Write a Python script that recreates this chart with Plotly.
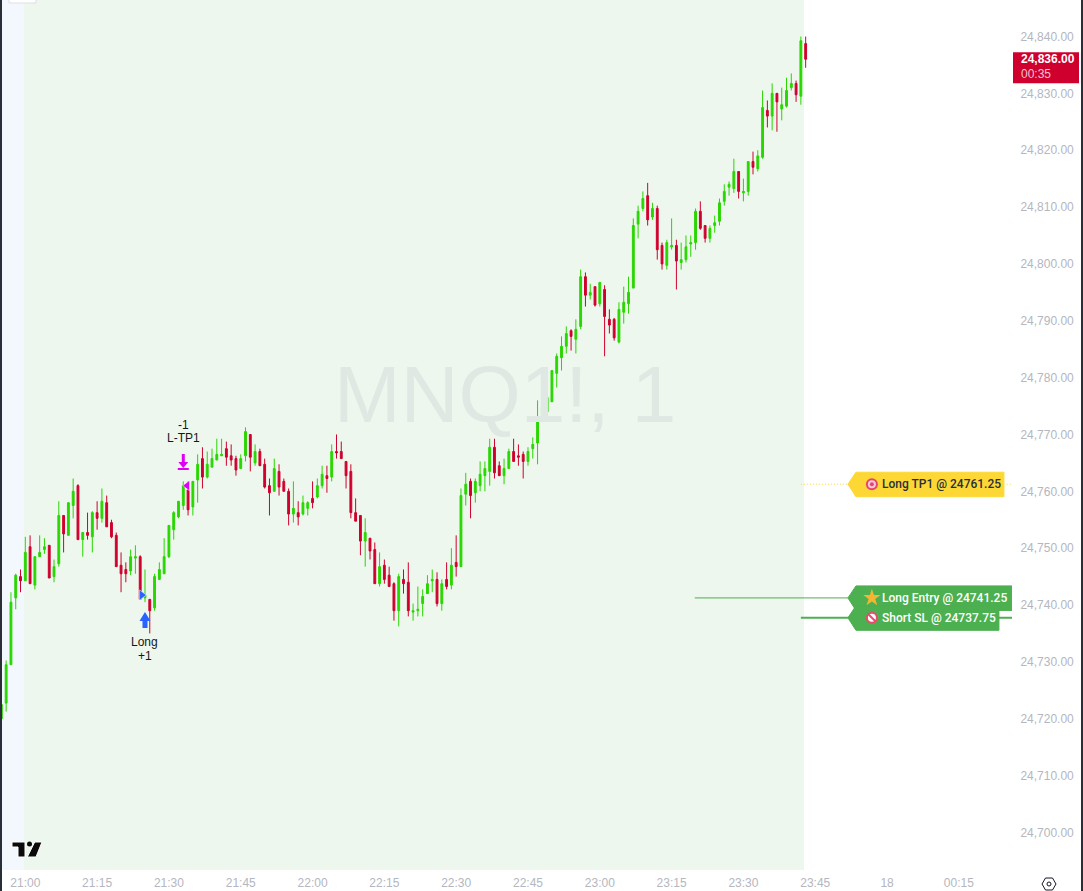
import pandas as pd
import plotly.graph_objects as go

# one minute MNQ bars, first bar 20:55
opens = [
    24720.0, 24722.75, 24729.5, 24741.25, 24745.0, 24744.25, 24750.25, 24743.5, 24748.5, 24749.75,
    24750.5, 24745.0, 24747.25, 24755.75, 24752.25, 24757.5, 24761.0, 24751.5, 24752.75, 24752.0,
    24756.25, 24755.25, 24758.0, 24754.5, 24752.25, 24747.0, 24746.25, 24746.0, 24748.25, 24748.5,
    24741.25, 24741.0, 24739.5, 24744.5, 24745.5, 24748.5, 24753.25, 24755.5, 24757.5, 24760.25,
    24757.25, 24762.0, 24765.75, 24762.5, 24764.25, 24765.5, 24766.25, 24767.5, 24766.25, 24765.75,
    24764.0, 24766.25, 24770.0, 24765.0, 24767.0, 24764.75, 24761.0, 24760.0, 24763.5, 24761.75,
    24760.0, 24756.0, 24756.25, 24756.0, 24757.0, 24758.75, 24759.0, 24761.0, 24762.75, 24762.5,
    24767.0, 24767.0, 24765.25, 24763.5, 24756.25, 24755.75, 24751.25, 24751.75, 24749.75, 24743.75,
    24747.0, 24745.25, 24743.75, 24739.0, 24744.5, 24744.0, 24738.75, 24739.0, 24740.25, 24742.0,
    24744.25, 24744.5, 24740.25, 24744.5, 24743.5, 24747.5, 24746.75, 24759.5, 24761.75, 24759.75,
    24761.0, 24762.75, 24763.5, 24767.75, 24764.5, 24762.75, 24764.0, 24767.0, 24766.25, 24766.5,
    24765.25, 24767.5, 24768.5, 24773.5, 24774.0, 24775.75, 24780.75, 24783.5, 24785.5, 24788.25,
    24786.75, 24789.0, 24797.75, 24794.5, 24796.0, 24793.0, 24795.5, 24790.25, 24790.25, 24786.25,
    24791.5, 24793.0, 24795.75, 24807.0, 24809.75, 24812.0, 24808.25, 24809.75, 24803.25, 24799.75,
    24803.0, 24803.25, 24800.25, 24800.75, 24803.5, 24803.75, 24809.25, 24806.75, 24804.5, 24806.75,
    24807.5, 24811.0, 24813.5, 24813.25, 24816.25, 24812.5, 24812.75, 24818.0, 24816.75, 24818.75,
    24827.0, 24826.0, 24830.0, 24827.25, 24827.75, 24831.0, 24831.75, 24829.5, 24838.75,
]
highs = [
    24722.5, 24730.25, 24742.25, 24745.5, 24746.25, 24752.0, 24752.25, 24748.5, 24752.25, 24751.75,
    24750.5, 24748.0, 24758.25, 24755.75, 24758.0, 24762.25, 24761.25, 24752.75, 24756.25, 24756.5,
    24758.25, 24760.5, 24759.25, 24755.0, 24752.75, 24749.25, 24747.5, 24749.75, 24750.5, 24748.75,
    24746.25, 24741.0, 24745.5, 24747.5, 24751.75, 24754.0, 24756.5, 24758.25, 24761.75, 24761.75,
    24761.75, 24766.5, 24767.75, 24767.0, 24767.5, 24769.25, 24769.25, 24768.75, 24768.25, 24766.25,
    24766.5, 24771.25, 24770.0, 24768.25, 24767.5, 24765.75, 24762.25, 24765.75, 24764.75, 24762.25,
    24760.5, 24761.75, 24758.25, 24759.25, 24758.25, 24761.75, 24762.25, 24764.5, 24764.5, 24768.25,
    24770.0, 24768.75, 24765.25, 24764.75, 24758.75, 24755.75, 24755.25, 24751.75, 24751.0, 24749.25,
    24748.0, 24746.75, 24744.0, 24745.5, 24746.25, 24747.5, 24740.25, 24743.25, 24742.75, 24745.25,
    24746.25, 24745.75, 24744.5, 24747.5, 24750.0, 24752.25, 24760.5, 24763.25, 24762.25, 24762.25,
    24765.25, 24765.25, 24769.25, 24769.25, 24765.25, 24765.75, 24767.5, 24769.25, 24768.25, 24767.0,
    24767.75, 24769.5, 24776.0, 24776.0, 24777.25, 24781.25, 24784.25, 24787.25, 24789.0, 24788.5,
    24790.25, 24799.0, 24798.5, 24796.5, 24796.0, 24796.75, 24796.25, 24792.0, 24790.5, 24793.25,
    24796.0, 24797.75, 24808.0, 24810.25, 24812.75, 24814.25, 24810.75, 24810.25, 24803.75, 24804.25,
    24808.0, 24804.25, 24803.75, 24805.0, 24805.0, 24809.75, 24811.0, 24806.75, 24806.75, 24808.5,
    24811.5, 24814.0, 24814.5, 24818.5, 24816.25, 24815.0, 24818.0, 24819.75, 24820.0, 24830.5,
    24828.75, 24831.75, 24830.0, 24831.0, 24832.75, 24833.5, 24832.25, 24840.0, 24840.0,
]
lows = [
    24720.0, 24721.25, 24729.5, 24739.25, 24742.25, 24744.25, 24743.75, 24742.75, 24748.5, 24749.0,
    24744.75, 24744.0, 24746.75, 24749.25, 24752.25, 24755.25, 24751.5, 24748.5, 24751.5, 24749.25,
    24753.25, 24754.5, 24753.75, 24751.75, 24746.75, 24742.25, 24744.0, 24745.25, 24745.5, 24741.0,
    24740.5, 24735.0, 24739.0, 24744.5, 24745.5, 24748.25, 24751.5, 24755.25, 24756.75, 24755.75,
    24755.75, 24758.0, 24760.5, 24762.25, 24764.25, 24765.5, 24766.25, 24764.5, 24764.5, 24762.75,
    24764.0, 24765.25, 24763.5, 24764.5, 24764.5, 24760.5, 24755.75, 24760.0, 24759.25, 24760.0,
    24754.0, 24754.5, 24754.0, 24755.75, 24755.75, 24757.0, 24758.75, 24760.5, 24759.75, 24761.75,
    24765.75, 24765.75, 24760.5, 24755.25, 24754.75, 24748.75, 24746.75, 24748.0, 24743.75, 24743.25,
    24743.75, 24743.25, 24737.25, 24736.25, 24742.0, 24738.0, 24737.25, 24738.0, 24738.0, 24742.0,
    24742.25, 24739.75, 24739.0, 24742.75, 24742.75, 24745.0, 24746.75, 24757.5, 24755.25, 24758.0,
    24760.0, 24760.0, 24761.0, 24762.25, 24762.75, 24761.25, 24764.0, 24765.25, 24764.5, 24762.25,
    24764.5, 24765.75, 24764.75, 24773.0, 24772.25, 24775.75, 24778.25, 24781.25, 24784.25, 24784.75,
    24784.25, 24788.5, 24792.5, 24793.75, 24792.5, 24792.5, 24783.75, 24787.75, 24786.5, 24786.0,
    24789.5, 24791.25, 24795.75, 24804.5, 24809.25, 24806.75, 24807.75, 24800.75, 24799.0, 24799.0,
    24802.5, 24795.5, 24799.0, 24800.25, 24801.25, 24802.5, 24806.0, 24803.75, 24803.75, 24805.5,
    24806.75, 24810.25, 24812.0, 24812.5, 24811.5, 24811.0, 24812.0, 24815.75, 24816.25, 24818.5,
    24824.0, 24823.5, 24823.25, 24825.25, 24827.5, 24830.5, 24828.5, 24828.0, 24834.5,
]
closes = [
    24722.5, 24729.5, 24740.5, 24745.25, 24744.25, 24749.25, 24743.75, 24748.5, 24749.25, 24750.25,
    24744.75, 24746.75, 24755.75, 24752.5, 24758.0, 24760.0, 24751.5, 24752.75, 24752.25, 24756.25,
    24755.25, 24758.25, 24753.75, 24752.0, 24746.75, 24745.5, 24745.5, 24748.5, 24748.5, 24741.0,
    24741.75, 24739.0, 24745.0, 24746.25, 24748.5, 24754.0, 24756.25, 24758.25, 24761.0, 24756.75,
    24761.75, 24764.75, 24762.5, 24764.75, 24765.75, 24766.5, 24766.5, 24766.0, 24765.5, 24763.75,
    24765.75, 24770.5, 24766.0, 24767.0, 24764.5, 24760.75, 24759.75, 24764.0, 24760.75, 24760.0,
    24756.0, 24757.0, 24755.5, 24758.0, 24758.0, 24758.0, 24761.0, 24763.0, 24762.25, 24767.0,
    24766.75, 24765.75, 24762.75, 24756.25, 24754.75, 24751.25, 24752.75, 24749.5, 24743.75, 24746.75,
    24744.5, 24743.25, 24739.0, 24745.0, 24743.75, 24739.0, 24739.0, 24739.25, 24741.5, 24743.75,
    24744.5, 24740.25, 24743.75, 24743.25, 24747.0, 24746.75, 24759.25, 24761.25, 24759.25, 24761.75,
    24763.0, 24764.0, 24767.75, 24763.25, 24762.75, 24764.0, 24767.0, 24765.25, 24766.0, 24765.25,
    24767.0, 24768.25, 24773.0, 24774.75, 24776.5, 24781.25, 24783.75, 24785.5, 24787.75, 24787.25,
    24788.5, 24797.75, 24794.5, 24795.0, 24792.75, 24796.75, 24790.75, 24789.25, 24787.0, 24792.0,
    24793.25, 24795.0, 24806.75, 24809.25, 24811.5, 24807.75, 24809.75, 24802.5, 24800.0, 24803.75,
    24803.25, 24800.5, 24800.75, 24803.0, 24803.75, 24809.25, 24806.25, 24804.5, 24806.25, 24807.25,
    24810.75, 24812.75, 24814.0, 24816.25, 24812.75, 24812.75, 24818.0, 24817.0, 24819.0, 24827.5,
    24826.0, 24830.0, 24828.5, 24828.0, 24830.5, 24831.75, 24829.75, 24839.25, 24836.0,
]

price_ticks = [24700, 24710, 24720, 24730, 24740, 24750, 24760, 24770, 24780, 24790, 24800, 24810, 24820, 24830, 24840]
time_ticks = ["21:00", "21:15", "21:30", "21:45", "22:00", "22:15", "22:30", "22:45", "23:00", "23:15", "23:30", "23:45", "18", "00:15"]

tp_price = 24761.25
entry_price = 24741.25
sl_price = 24737.75
last_price = 24836.0

UP = "#29d600"
DOWN = "#cf002d"
LABEL_GREEN = "#4caf50"
LABEL_YELLOW = "#fdd835"
AXIS_TEXT = "#b4b6c0"
FONT = "Liberation Sans"

start = pd.Timestamp("2025-09-17 20:55")
times = pd.date_range(start, periods=len(opens), freq="min")


def at(hhmmss, next_day=False):
    day = "2025-09-18 " if next_day else "2025-09-17 "
    return pd.Timestamp(day + hhmmss)


tick_times = list(pd.date_range("2025-09-17 21:00", periods=len(time_ticks), freq="15min"))

fig = go.Figure()

fig.add_trace(go.Candlestick(
    x=times, open=opens, high=highs, low=lows, close=closes,
    increasing=dict(line=dict(color=UP, width=1), fillcolor=UP),
    decreasing=dict(line=dict(color=DOWN, width=1), fillcolor=DOWN),
    whiskerwidth=0, hoverinfo="skip",
))


def marker(x, y, symbol, size, color, line_color="rgba(0,0,0,0)", line_width=0):
    fig.add_trace(go.Scatter(
        x=[x], y=[y], mode="markers", hoverinfo="skip",
        marker=dict(symbol=symbol, size=size, color=color, line=dict(color=line_color, width=line_width)),
    ))


# fill/exit triangles next to the bars
marker(at("21:24:20"), 24741.75, "triangle-right", 9, "#2962ff", "white", 0.5)
marker(at("21:33:50"), 24761.0, "triangle-left", 9, "#e000f5", "white", 0.5)

# icons where the emoji sit in the order labels
icon_x = at("23:56:50")
marker(icon_x, tp_price, "circle", 12, "#e8436f")
marker(icon_x, tp_price, "circle", 8, "#f7c9d4")
marker(icon_x, tp_price, "circle", 4, "#e8436f")
marker(icon_x, entry_price, "star", 13, "#f2b632")
marker(icon_x, sl_price, "circle", 10, "white", "#ea4a6c", 2)
marker(icon_x, sl_price, "line-nw", 7, "#ea4a6c", "#ea4a6c", 2)

shapes = [
    # session backgrounds
    dict(type="rect", xref="x", yref="paper", x0=times[0] - pd.Timedelta(minutes=1), x1=at("20:59:45"), y0=0, y1=1,
         fillcolor="#f3f7fe", line_width=0, layer="below"),
    dict(type="rect", xref="x", yref="paper", x0=at("20:59:45"), x1=at("23:42:40"), y0=0, y1=1,
         fillcolor="#edf7ee", line_width=0, layer="below"),
    # order lines
    dict(type="line", xref="x", yref="y", x0=at("23:42:00"), x1=at("23:52:00"), y0=tp_price, y1=tp_price,
         line=dict(color=LABEL_YELLOW, width=1, dash="1px,2px"), layer="below"),
    dict(type="line", xref="x", yref="y", x0=at("00:25:00", True), x1=at("00:26:06", True), y0=tp_price, y1=tp_price,
         line=dict(color=LABEL_YELLOW, width=1, dash="1px,2px"), layer="below"),
    dict(type="line", xref="x", yref="y", x0=at("23:19:50"), x1=at("23:52:00"), y0=entry_price, y1=entry_price,
         line=dict(color=LABEL_GREEN, width=1), layer="below"),
    dict(type="line", xref="x", yref="y", x0=at("23:42:00"), x1=at("00:26:06", True), y0=sl_price, y1=sl_price,
         line=dict(color=LABEL_GREEN, width=2), layer="below"),
]


def order_label(price, width, color):
    # pentagon pointing left, sized in pixels and hung on the price
    path = f"M0,0 L8,12 L{width},12 L{width},-12.5 L8,-12.5 Z"
    return dict(type="path", xref="x", yref="y", xsizemode="pixel", ysizemode="pixel",
                xanchor=at("23:51:50"), yanchor=price, path=path,
                fillcolor=color, line=dict(color=color, width=1), layer="below")


shapes.append(order_label(tp_price, 156, LABEL_YELLOW))
shapes.append(order_label(entry_price, 164, LABEL_GREEN))
shapes.append(order_label(sl_price, 151, LABEL_GREEN))

# long arrow, up
shapes.append(dict(type="path", xref="x", yref="y", xsizemode="pixel", ysizemode="pixel",
                   xanchor=at("21:25:00"), yanchor=24738.75,
                   path="M0,0 L5.5,-9 L2.5,-9 L2.5,-16 L-2.5,-16 L-2.5,-9 L-5.5,-9 Z",
                   fillcolor="#2962ff", line_width=0, layer="above"))
# tp arrow, down with bar
shapes.append(dict(type="path", xref="x", yref="y", xsizemode="pixel", ysizemode="pixel",
                   xanchor=at("21:33:00"), yanchor=24763.75,
                   path="M-1.5,16 L1.5,16 L1.5,8 L5,8 L0,2 L-5,8 L-1.5,8 Z M-5.5,2 L5.5,2 L5.5,0 L-5.5,0 Z",
                   fillcolor="#e000f5", line_width=0, layer="above"))

# current price tag
shapes.append(dict(type="rect", xref="paper", yref="y", xsizemode="pixel", ysizemode="pixel",
                   xanchor=1, yanchor=last_price, x0=1, x1=67, y0=7, y1=-24,
                   fillcolor=DOWN, line_width=0))

# tradingview logo
shapes.append(dict(type="path", xref="paper", yref="paper", xsizemode="pixel", ysizemode="pixel",
                   xanchor=0, yanchor=0,
                   path="M10,28 L23,28 L23,13 L16,13 L16,23 L10,23 Z M32.7,28 L40,28 L34,13 L25.3,13 Z",
                   fillcolor="#0b0b0b", line=dict(color="white", width=1), layer="above"))
shapes.append(dict(type="circle", xref="paper", yref="paper", xsizemode="pixel", ysizemode="pixel",
                   xanchor=0, yanchor=0, x0=25, x1=30, y0=23.5, y1=28.5,
                   fillcolor="#0b0b0b", line_width=0, layer="above"))

# screen chrome
shapes.append(dict(type="path", xref="paper", yref="paper", xsizemode="pixel", ysizemode="pixel",
                   xanchor=1, yanchor=0,
                   path="M30,-14 L33.5,-8 L40.5,-8 L44,-14 L40.5,-20 L33.5,-20 Z",
                   fillcolor="white", line=dict(color="#131722", width=1)))
shapes.append(dict(type="circle", xref="paper", yref="paper", xsizemode="pixel", ysizemode="pixel",
                   xanchor=1, yanchor=0, x0=35, x1=39, y0=-16, y1=-12,
                   fillcolor="white", line=dict(color="#131722", width=1)))
shapes.append(dict(type="rect", xref="paper", yref="paper", xsizemode="pixel", ysizemode="pixel",
                   xanchor=0, yanchor=1, x0=7, x1=34, y0=6, y1=-3,
                   fillcolor="white", line=dict(color="#dcdfe6", width=1), layer="above"))
shapes.append(dict(type="rect", xref="paper", yref="paper", xsizemode="pixel", ysizemode="pixel",
                   xanchor=0, yanchor=0, x0=-2, x1=0, y0=-21, y1=870,
                   fillcolor="#2a2e39", line_width=0, layer="above"))
shapes.append(dict(type="rect", xref="paper", yref="paper", xsizemode="pixel", ysizemode="pixel",
                   xanchor=1, yanchor=0, x0=69, x1=71, y0=-21, y1=870,
                   fillcolor="#2a2e39", line_width=0, layer="above"))


def note(text, x, y, size=12, color="#131722", family=FONT, weight="normal", **kw):
    return dict(text=text, x=x, y=y, xref="x", yref="y", showarrow=False,
                font=dict(family=family, size=size, color=color, weight=weight), **kw)


label_x = at("23:58:00")
annotations = [
    dict(text="MNQ1!, 1", x=0.4985, y=0.546, xref="paper", yref="paper", showarrow=False,
         font=dict(family=FONT, size=80, color="#dfe8e2")),
    note("Long", at("21:25:00"), 24740.25, yshift=-38),
    note("+1", at("21:25:00"), 24740.25, yshift=-52),
    note("-1", at("21:33:00"), 24763.75, yshift=45),
    note("L-TP1", at("21:33:00"), 24763.75, yshift=32),
    note("Long TP1 @ 24761.25", label_x, tp_price, color="#2a2e39", family="Roboto", weight=500, xanchor="left", xshift=3),
    note("Long Entry @ 24741.25", label_x, entry_price, color="white", family="Roboto", weight=500, xanchor="left", xshift=3),
    note("Short SL @ 24737.75", label_x, sl_price, color="white", family="Roboto", weight=500, xanchor="left", xshift=3),
    dict(text="<b>24,836.00</b>", x=1, y=last_price, xref="paper", yref="y", xanchor="left", showarrow=False,
         xshift=7, yshift=0, font=dict(family=FONT, size=12, color="white")),
    dict(text="00:35", x=1, y=last_price, xref="paper", yref="y", xanchor="left", showarrow=False,
         xshift=7, yshift=-15, font=dict(family=FONT, size=12, color="#f6c4cf")),
]

fig.update_layout(
    width=1083, height=891,
    margin=dict(l=2, r=71, t=0, b=21),
    paper_bgcolor="white", plot_bgcolor="white",
    showlegend=False, hovermode=False, boxgap=0.45,
    shapes=shapes, annotations=annotations,
    font=dict(family=FONT, size=12, color=AXIS_TEXT),
    xaxis=dict(
        range=[at("20:55:08"), at("00:26:06", True)], rangeslider=dict(visible=False),
        showgrid=False, zeroline=False, showline=False, automargin=False,
        tickmode="array", tickvals=tick_times, ticktext=time_ticks,
        ticks="outside", ticklen=2, tickcolor="rgba(0,0,0,0)",
        tickfont=dict(family=FONT, size=12, color=AXIS_TEXT),
    ),
    yaxis=dict(
        range=[24693.39, 24846.42], side="right",
        showgrid=False, zeroline=False, showline=False, automargin=False,
        tickmode="array", tickvals=price_ticks, ticktext=[f"{v:,.2f}" for v in price_ticks],
        ticks="outside", ticklen=5, tickcolor="rgba(0,0,0,0)",
        tickfont=dict(family=FONT, size=12, color=AXIS_TEXT),
    ),
)

fig.write_html("out.html", config=dict(displayModeBar=False), post_script="document.body.style.margin='0';")
